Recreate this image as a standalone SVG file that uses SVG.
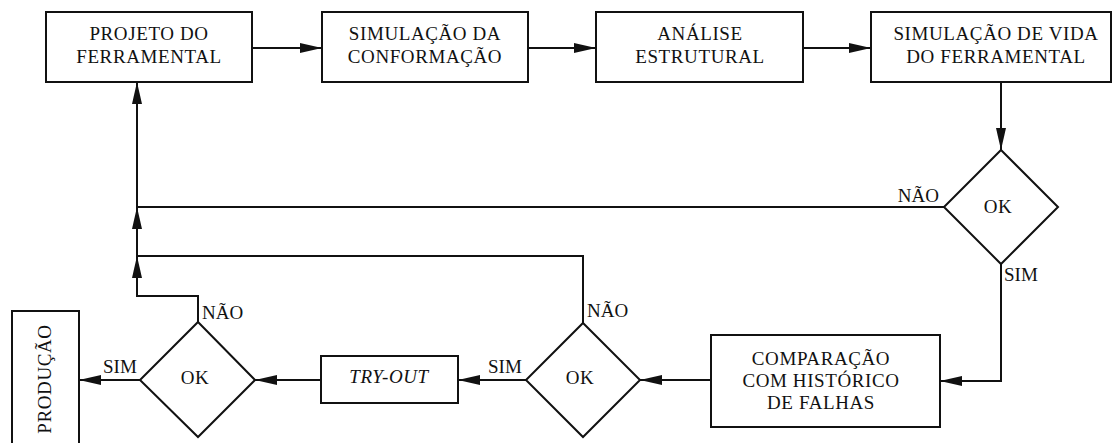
<svg xmlns="http://www.w3.org/2000/svg" width="1116" height="443" viewBox="0 0 1116 443">
<defs>
<marker id="arr" markerUnits="userSpaceOnUse" markerWidth="22" markerHeight="10" refX="22" refY="5" orient="auto">
<path d="M0,0 L22,5 L0,10 z" fill="#111"/>
</marker>
<style>
.box{fill:#fff;stroke:#111;stroke-width:2}
.t{font-family:"Liberation Serif","Times New Roman",serif;font-size:19px;fill:#111;text-anchor:middle;letter-spacing:0.6px}
.lbl{font-family:"Liberation Serif","Times New Roman",serif;font-size:19px;fill:#111}
.it{font-style:italic}
.con{fill:none;stroke:#111;stroke-width:2;marker-end:url(#arr)}
</style>
</defs>
<rect width="1116" height="443" fill="#fff"/>
<g id="connectors">
<path class="con" d="M252,48 H322"/>
<path class="con" d="M528,48 H596"/>
<path class="con" d="M803,48 H871"/>
<path class="con" d="M1001,82 V150"/>
<path class="con" d="M944,207 H137 V82"/>
<path class="con" d="M583,323 V256 H137 V207"/>
<path class="con" d="M198,322 V296 H137 V256"/>
<path class="con" d="M1001,264 V381 H940"/>
<path class="con" d="M711,380 H640"/>
<path class="con" d="M526,380 H458"/>
<path class="con" d="M321,380 H255"/>
<path class="con" d="M140,380 H79"/>
<text class="lbl" x="939" y="202" text-anchor="end">NÃO</text>
<text class="lbl" x="1004" y="281">SIM</text>
<text class="lbl" x="587" y="317">NÃO</text>
<text class="lbl" x="488" y="373">SIM</text>
<text class="lbl" x="202" y="319">NÃO</text>
<text class="lbl" x="103" y="373">SIM</text>
</g>
<g id="projeto">
<rect class="box" x="46" y="12" width="206" height="70"/>
<text class="t" x="149" y="40">PROJETO DO</text>
<text class="t" x="149" y="63">FERRAMENTAL</text>
</g>
<g id="simulacao-conformacao">
<rect class="box" x="322" y="12" width="206" height="70"/>
<text class="t" x="425" y="40">SIMULAÇÃO DA</text>
<text class="t" x="425" y="63">CONFORMAÇÃO</text>
</g>
<g id="analise">
<rect class="box" x="596" y="12" width="207" height="70"/>
<text class="t" x="700" y="40">ANÁLISE</text>
<text class="t" x="700" y="63">ESTRUTURAL</text>
</g>
<g id="simulacao-vida">
<rect class="box" x="871" y="12" width="240" height="70"/>
<text class="t" x="996" y="40">SIMULAÇÃO DE VIDA</text>
<text class="t" x="996" y="63">DO FERRAMENTAL</text>
</g>
<g id="ok1">
<polygon class="box" points="1001,150 1058,207 1001,264 944,207"/>
<text class="t" x="998" y="213">OK</text>
</g>
<g id="comparacao">
<rect class="box" x="711" y="335" width="229" height="92"/>
<text class="t" x="821" y="365">COMPARAÇÃO</text>
<text class="t" x="821" y="387">COM HISTÓRICO</text>
<text class="t" x="821" y="409">DE FALHAS</text>
</g>
<g id="ok2">
<polygon class="box" points="583,323 640,380 583,437 526,380"/>
<text class="t" x="580" y="384">OK</text>
</g>
<g id="tryout">
<rect class="box" x="321" y="356" width="137" height="47"/>
<text class="t it" x="389" y="383">TRY-OUT</text>
</g>
<g id="ok3">
<polygon class="box" points="198,322 255,380 198,437 140,380"/>
<text class="t" x="195" y="384">OK</text>
</g>
<g id="producao">
<rect class="box" x="12" y="311" width="67" height="150"/>
<text class="t" transform="translate(51,379) rotate(-90)" x="0" y="0">PRODUÇÃO</text>
</g>
</svg>
